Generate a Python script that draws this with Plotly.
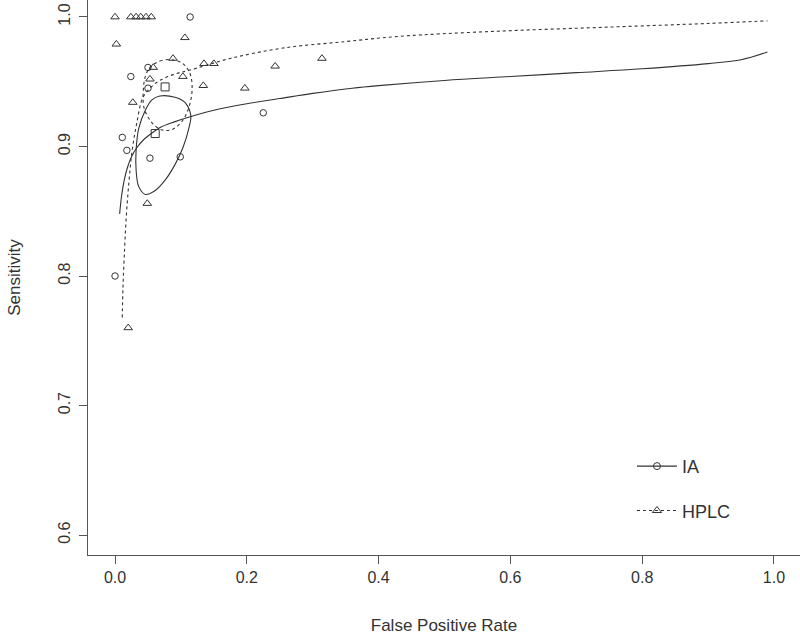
import plotly.graph_objects as go

# ---- data ----
ia_fpr = [0.114, 0.050, 0.024, 0.050, 0.011, 0.018, 0.053, 0.099, 0.225, 0.000]
ia_sens = [1.000, 0.961, 0.954, 0.945, 0.907, 0.897, 0.891, 0.892, 0.926, 0.800]

hplc_fpr = [0.000, 0.002, 0.024, 0.032, 0.039, 0.047, 0.055, 0.106, 0.088, 0.058,
            0.053, 0.103, 0.027, 0.049, 0.020, 0.135, 0.150, 0.134, 0.197, 0.243, 0.314]
hplc_sens = [1.000, 0.979, 1.000, 1.000, 1.000, 1.000, 1.000, 0.984, 0.968, 0.961,
             0.952, 0.954, 0.934, 0.856, 0.760, 0.964, 0.964, 0.947, 0.945, 0.962, 0.968]

ia_sroc_fpr = [0.007, 0.010, 0.014, 0.019, 0.025, 0.033, 0.043, 0.055, 0.07, 0.09, 0.114,
               0.15, 0.2, 0.25, 0.3, 0.36, 0.4, 0.5, 0.6, 0.7, 0.8, 0.9, 0.95, 0.99]
ia_sroc_sens = [0.848, 0.862, 0.874, 0.884, 0.892, 0.899, 0.905, 0.910, 0.915, 0.919, 0.923,
                0.928, 0.933, 0.937, 0.941, 0.945, 0.947, 0.951, 0.954, 0.957, 0.960, 0.964,
                0.967, 0.973]

hplc_sroc_fpr = [0.011, 0.012, 0.014, 0.017, 0.021, 0.026, 0.033, 0.042, 0.053, 0.068, 0.091,
                 0.114, 0.175, 0.255, 0.35, 0.43, 0.58, 0.74, 0.9, 0.99]
hplc_sroc_sens = [0.768, 0.790, 0.815, 0.845, 0.872, 0.897, 0.918, 0.9375, 0.945, 0.951, 0.956,
                  0.959, 0.968, 0.976, 0.981, 0.985, 0.989, 0.992, 0.995, 0.997]

ia_region_fpr = [0.068, 0.091, 0.106, 0.115, 0.112, 0.103, 0.091, 0.076, 0.061, 0.046,
                 0.036, 0.032, 0.032, 0.036, 0.046, 0.056, 0.068]
ia_region_sens = [0.939, 0.938, 0.934, 0.924, 0.914, 0.899, 0.886, 0.874, 0.866, 0.863,
                  0.869, 0.882, 0.897, 0.914, 0.928, 0.936, 0.939]

hplc_region_fpr = [0.053, 0.068, 0.086, 0.103, 0.114, 0.117, 0.112, 0.101, 0.086, 0.070,
                   0.055, 0.044, 0.043, 0.046, 0.053]
hplc_region_sens = [0.961, 0.966, 0.967, 0.964, 0.956, 0.944, 0.930, 0.919, 0.913, 0.913,
                    0.919, 0.930, 0.944, 0.954, 0.961]

ia_summary = (0.061, 0.910)
hplc_summary = (0.076, 0.946)

x_ticks = [0.0, 0.2, 0.4, 0.6, 0.8, 1.0]
x_tick_labels = ["0.0", "0.2", "0.4", "0.6", "0.8", "1.0"]
y_ticks = [0.6, 0.7, 0.8, 0.9, 1.0]
y_tick_labels = ["0.6", "0.7", "0.8", "0.9", "1.0"]

INK = "#333333"
FONT = "Liberation Sans"

fig = go.Figure()

# confidence regions
fig.add_trace(go.Scatter(x=ia_region_fpr, y=ia_region_sens, mode="lines", line_shape="spline",
                         line=dict(color=INK, width=1.1), showlegend=False, hoverinfo="skip"))
fig.add_trace(go.Scatter(x=hplc_region_fpr, y=hplc_region_sens, mode="lines", line_shape="spline",
                         line=dict(color=INK, width=1.1, dash="3px,3px"), showlegend=False,
                         hoverinfo="skip"))

# SROC curves
fig.add_trace(go.Scatter(x=ia_sroc_fpr, y=ia_sroc_sens, mode="lines", line_shape="spline",
                         line=dict(color=INK, width=1.1), showlegend=False))
fig.add_trace(go.Scatter(x=hplc_sroc_fpr, y=hplc_sroc_sens, mode="lines", line_shape="spline",
                         line=dict(color=INK, width=1.1, dash="3px,3px"), showlegend=False))

# study points
fig.add_trace(go.Scatter(x=ia_fpr, y=ia_sens, mode="markers",
                         marker=dict(symbol="circle-open", size=6.5, color=INK, line=dict(width=1)),
                         showlegend=False))
fig.add_trace(go.Scatter(x=hplc_fpr, y=hplc_sens, mode="markers",
                         marker=dict(symbol="triangle-up-open", size=7.5, color=INK, line=dict(width=1)),
                         showlegend=False))

# summary points
fig.add_trace(go.Scatter(x=[ia_summary[0]], y=[ia_summary[1]], mode="markers",
                         marker=dict(symbol="square-open", size=8, color=INK, line=dict(width=1)),
                         showlegend=False))
fig.add_trace(go.Scatter(x=[hplc_summary[0]], y=[hplc_summary[1]], mode="markers",
                         marker=dict(symbol="square-open", size=8, color=INK, line=dict(width=1)),
                         showlegend=False))

# legend entries
fig.add_trace(go.Scatter(x=[None], y=[None], mode="lines+markers", name="IA",
                         line=dict(color=INK, width=1.1),
                         marker=dict(symbol="circle-open", size=7, color=INK, line=dict(width=1)),
                         legendgroup="a"))
fig.add_trace(go.Scatter(x=[None], y=[None], mode="lines+markers", name="HPLC",
                         line=dict(color=INK, width=1.1, dash="3px,3px"),
                         marker=dict(symbol="triangle-up-open", size=8, color=INK, line=dict(width=1)),
                         legendgroup="b"))

axis_common = dict(showline=True, linecolor="#555555", linewidth=1, ticks="outside",
                   ticklen=8, tickcolor="#555555", showgrid=False, zeroline=False,
                   automargin=False, ticklabeloverflow="allow",
                   tickfont=dict(family=FONT, size=16, color=INK))

fig.update_layout(
    width=800, height=639,
    margin=dict(l=88, r=0, t=0, b=84),
    paper_bgcolor="white", plot_bgcolor="white",
    font=dict(family=FONT, color=INK),
    xaxis=dict(range=[-0.041, 1.0395], tickvals=x_ticks, ticktext=x_tick_labels,
               title=dict(text="False Positive Rate", font=dict(family=FONT, size=17, color=INK),
                          standoff=33),
               **axis_common),
    yaxis=dict(range=[0.5846, 1.0131], tickvals=y_ticks, ticktext=y_tick_labels, tickangle=-90,
               ticklabelstandoff=3,
               title=dict(text="Sensitivity", font=dict(family=FONT, size=17, color=INK),
                          standoff=30),
               **axis_common),
    legend=dict(x=0.764, y=0.193, xanchor="left", yanchor="top", bgcolor="rgba(0,0,0,0)",
                font=dict(family=FONT, size=18, color=INK), tracegroupgap=18,
                itemwidth=40),
)

fig.write_html("out.html", config={"displayModeBar": False},
               post_script="document.body.style.margin='0';")
